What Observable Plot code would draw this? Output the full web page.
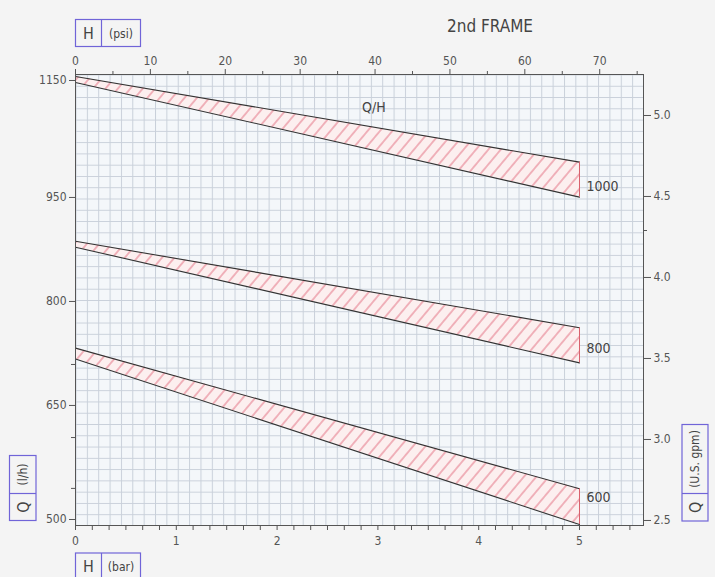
<!DOCTYPE html>
<html><head><meta charset="utf-8">
<script src="https://cdn.jsdelivr.net/npm/d3@7"></script>
<script src="https://cdn.jsdelivr.net/npm/@observablehq/plot@0.6"></script>
<style>
html,body{margin:0;padding:0;background:#f4f4f4;}
#chart{position:relative;width:715px;height:577px;overflow:hidden;}
</style></head><body><div id="chart"></div>
<script>
// ---- data (Q in U.S. gpm, read on the linear right axis) ----
const hBarTicks = [0, 1, 2, 3, 4, 5];
const hPsiTicks = [0, 10, 20, 30, 40, 50, 60, 70];
const hPsiMinor = [5, 15, 25, 35, 45, 55, 65, 75];
const psiPerBarOnChart = 13.46;
const qGpmTicks = [2.5, 3.0, 3.5, 4.0, 4.5, 5.0];
const qGpmMinor = [4.29];
const qLphTicks = [500, 650, 800, 950, 1150];
const qLphTickAtGpm = [2.506, 3.210, 3.852, 4.494, 5.216];
const qLphMinorAtGpm = [2.698, 3.012, 3.463];

const bandNames = ["1000", "800", "600"];
const bandH = [0, 5];
const band1000Upper = [5.241, 4.712];
const band1000Lower = [5.204, 4.496];
const band800Upper = [4.224, 3.690];
const band800Lower = [4.187, 3.473];
const band600Upper = [3.564, 2.696];
const band600Lower = [3.497, 2.475];
const bandLabelQ = [4.562, 3.562, 2.642];
const curveLabel = [{text: "Q/H", h: 2.96, q: 5.049}];

// ---- tables ----
const uppers = [band1000Upper, band800Upper, band600Upper];
const lowers = [band1000Lower, band800Lower, band600Lower];
const rows = [];
bandNames.forEach((n, i) => bandH.forEach((h, j) => rows.push({band: n, h, upper: uppers[i][j], lower: lowers[i][j]})));
const ends = rows.filter(d => d.h === 5);
const labels = bandNames.map((n, i) => ({name: n, h: 5, q: bandLabelQ[i]}));
const barMinor = d3.range(1, 34).map(k => k / 6).filter(v => v < 5.6 && Math.abs(v - Math.round(v)) > 1e-6);

const font = "'Liberation Sans Narrow','DejaVu Sans Condensed','Liberation Sans',sans-serif";

const chart = Plot.plot({
  width: 715, height: 577,
  marginLeft: 75, marginRight: 72, marginTop: 74, marginBottom: 52,
  x: {domain: [0, 5.635], axis: null},
  y: {domain: [2.469, 5.253], axis: null},
  style: {background: "transparent", fontFamily: font, fontSize: "12px", color: "#555"},
  marks: [
    Plot.frame({fill: "#f4f7fa"}),
    Plot.frame({fill: "url(#grid)"}),
    Plot.areaY(rows, {x: "h", y1: "lower", y2: "upper", z: "band", fill: "url(#hatch)"}),
    Plot.line(rows, {x: "h", y: "upper", z: "band", stroke: "#333", strokeWidth: 1.1}),
    Plot.line(rows, {x: "h", y: "lower", z: "band", stroke: "#333", strokeWidth: 1.1}),
    Plot.ruleX(ends, {x: "h", y1: "lower", y2: "upper", stroke: "#d9606c", strokeWidth: 1}),
    Plot.text(labels, {x: "h", y: "q", text: "name", dx: 7, textAnchor: "start", fontSize: 14, fontWeight: 300, fill: "#444"}),
    Plot.text(curveLabel, {x: "h", y: "q", text: "text", fontSize: 14, fontWeight: 300, fill: "#444", style: "letter-spacing:3px"}),
    Plot.frame({stroke: "#555", strokeWidth: 1}),
    Plot.axisX(hBarTicks, {anchor: "bottom", tickSize: 5, tickPadding: 6, label: null, fontSize: 12, tickFormat: d => String(d)}),
    Plot.axisX(barMinor, {anchor: "bottom", tickSize: 5, tickFormat: () => "", label: null}),
    Plot.axisX(hPsiTicks.map(p => p / psiPerBarOnChart), {anchor: "top", tickSize: 6, tickPadding: 4, label: null, fontSize: 12, tickFormat: d => String(Math.round(d * psiPerBarOnChart))}),
    Plot.axisX(hPsiMinor.map(p => p / psiPerBarOnChart), {anchor: "top", tickSize: 4, tickFormat: () => "", label: null}),
    Plot.axisY(qLphTickAtGpm, {anchor: "left", tickSize: 6, tickPadding: 3, label: null, fontSize: 12, tickFormat: d => String(qLphTicks[qLphTickAtGpm.indexOf(d)])}),
    Plot.axisY(qLphMinorAtGpm, {anchor: "left", tickSize: 4, tickFormat: () => "", label: null}),
    Plot.axisY(qGpmTicks, {anchor: "right", tickSize: 7, tickPadding: 3, label: null, fontSize: 12, tickFormat: d => d.toFixed(1)}),
    Plot.axisY(qGpmMinor, {anchor: "right", tickSize: 3, tickFormat: () => "", label: null})
  ]
});

// patterns
const svg = d3.select(chart);
const defs = svg.insert("defs", ":first-child");
const gw = 568 / 50, gh = 451 / 40;
const gp = defs.append("pattern").attr("id", "grid").attr("patternUnits", "userSpaceOnUse")
  .attr("x", 75).attr("y", 74).attr("width", gw).attr("height", gh);
gp.append("path").attr("d", `M0,0.5H${gw}M0.5,0V${gh}`).attr("stroke", "#c9d0da").attr("stroke-width", 1).attr("fill", "none");
const hp = defs.append("pattern").attr("id", "hatch").attr("patternUnits", "userSpaceOnUse")
  .attr("width", 9.5).attr("height", 9.5).attr("patternTransform", "rotate(40)");
hp.append("rect").attr("width", 9.5).attr("height", 9.5).attr("fill", "#fcefef");
hp.append("line").attr("x1", 4.75).attr("x2", 4.75).attr("y1", 0).attr("y2", 9.5).attr("stroke", "#e2687a").attr("stroke-width", 0.9);

// decorations: unit boxes and title
const deco = svg.append("g").attr("fill", "#444").attr("font-family", font);
const boxColor = "#7064d8";
function hbox(x, y, w, h, div, t1, t2) {
  deco.append("rect").attr("x", x).attr("y", y).attr("width", w).attr("height", h).attr("fill", "none").attr("stroke", boxColor).attr("stroke-width", 1.2);
  deco.append("line").attr("x1", x + div).attr("x2", x + div).attr("y1", y).attr("y2", y + h).attr("stroke", boxColor).attr("stroke-width", 1.2);
  deco.append("text").attr("x", x + div / 2).attr("y", y + 19).attr("text-anchor", "middle").attr("font-size", 16).attr("font-weight", 300).text(t1);
  deco.append("text").attr("x", x + div + (w - div) / 2).attr("y", y + 18).attr("text-anchor", "middle").attr("font-size", 12).text(t2);
}
function vbox(x, y, w, h, div, t1, t2) {
  deco.append("rect").attr("x", x).attr("y", y).attr("width", w).attr("height", h).attr("fill", "none").attr("stroke", boxColor).attr("stroke-width", 1.2);
  deco.append("line").attr("x1", x).attr("x2", x + w).attr("y1", y + div).attr("y2", y + div).attr("stroke", boxColor).attr("stroke-width", 1.2);
  const cq = y + div + (h - div) / 2, cu = y + div / 2, cx = x + w / 2;
  deco.append("text").attr("transform", `translate(${cx + 6},${cq}) rotate(-90)`).attr("text-anchor", "middle").attr("font-size", 16).attr("font-weight", 300).text(t1);
  deco.append("text").attr("transform", `translate(${cx + 4},${cu}) rotate(-90)`).attr("text-anchor", "middle").attr("font-size", 12).text(t2);
}
hbox(75.5, 19.5, 65, 27, 26, "H", "(psi)");
hbox(75.5, 553, 65, 30, 26, "H", "(bar)");
vbox(9.5, 455.5, 26.5, 65, 38, "Q", "(l/h)");
vbox(682, 424.5, 26, 96.5, 69, "Q", "(U.S. gpm)");
deco.append("text").attr("x", 490).attr("y", 32).attr("text-anchor", "middle").attr("font-size", 17).attr("font-weight", 300).attr("fill", "#444").text("2nd FRAME");

document.getElementById("chart").appendChild(chart);
</script></body></html>
